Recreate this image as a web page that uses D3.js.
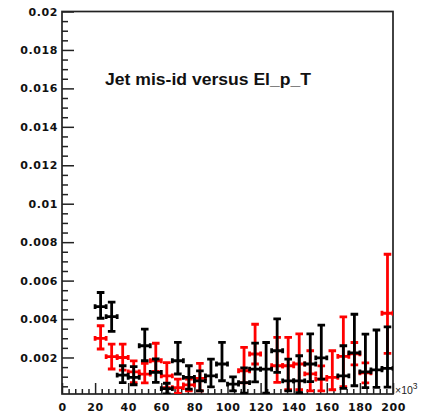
<!DOCTYPE html>
<html>
<head>
<meta charset="utf-8">
<script src="https://cdn.jsdelivr.net/npm/d3@7"></script>
<style>
  body { margin: 0; background: #fff; }
  svg { display: block; }
  .lbl text { font-family: "DejaVu Sans", sans-serif; font-weight: bold; font-size: 11px; letter-spacing: 0.6px; fill: #111; }
</style>
</head>
<body>
<svg id="chart" width="432" height="419"></svg>
<script>
// Bin centres (x in units of 10^3), 30 equal bins over 0..200; bins below 20 are empty
const binCenters = [23.33, 30, 36.67, 43.33, 50, 56.67, 63.33, 70, 76.67, 83.33,
                    90, 96.67, 103.33, 110, 116.67, 123.33, 130, 136.67, 143.33, 150,
                    156.67, 163.33, 170, 176.67, 183.33, 190, 196.67];
const binWidth = 6.667;

// Black histogram: content and upper / lower errors
const blackVal   = [0.00465, 0.00413, 0.00108, 0.00096, 0.00261, 0.00122, 0.00038, 0.00183, 0.00096, 0.00078,
                    0.00104, 0.00166, 0.00061, 0.00069, 0.00139, 0.00139, 0.00235, 0.00078, 0.00078, 0.00166,
                    0.00198, null,    0.00104, 0.00224, 0.00125, 0.00136, 0.00143];
const blackErrHi = [0.00073, 0.00075, 0.00049, 0.00056, 0.00087, 0.00070, 0.00028, 0.00096, 0.00061, 0.00052,
                    0.00087, 0.00113, 0.00038, 0.00077, 0.00136, 0.00139, 0.00166, 0.00113, 0.00131, 0.00157,
                    0.00170, null,    0.00157, 0.00201, 0.00197, 0.00207, 0.00216];
const blackErrLo = [0.00061, 0.00077, 0.00039, 0.00038, 0.00078, 0.00052, 0.00027, 0.00069, 0.00061, 0.00052,
                    0.00057, 0.00087, 0.00035, 0.00054, 0.00066, 0.00124, 0.00113, 0.00052, 0.00061, 0.00092,
                    0.00111, null,    0.00065, 0.00171, 0.00082, 0.00092, 0.00097];

// Red histogram: content and upper / lower errors
const redVal   = [0.00299, 0.00204, 0.00200, 0.00125, 0.00113, 0.00183, 0.00104, 0.00043, 0.00057, 0.00091,
                  null,    null,    null,    0.00131, 0.00218, null,    0.00157, 0.00157, 0.00166, 0.00115,
                  0.00087, 0.00096, 0.00206, 0.00219, 0.00120, null,    0.00430];
const redErrHi = [0.00066, 0.00066, 0.00070, 0.00057, 0.00056, 0.00091, 0.00069, 0.00044, 0.00031, 0.00078,
                  null,    null,    null,    0.00122, 0.00155, null,    0.00148, 0.00148, 0.00157, 0.00120,
                  0.00069, 0.00139, 0.00205, 0.00059, 0.00052, null,    0.00307];
const redErrLo = [0.00055, 0.00064, 0.00066, 0.00056, 0.00045, 0.00055, 0.00061, 0.00030, 0.00031, 0.00065,
                  null,    null,    null,    0.00063, 0.00052, null,    0.00087, 0.00125, 0.00134, 0.00089,
                  0.00061, 0.00064, 0.00158, 0.00057, 0.00052, null,    0.00209];

// Axis ticks and labels
const xTicks = [0, 20, 40, 60, 80, 100, 120, 140, 160, 180, 200];
const xTickLabels = ["0", "20", "40", "60", "80", "100", "120", "140", "160", "180", "200"];
const yTicks = [0.002, 0.004, 0.006, 0.008, 0.010, 0.012, 0.014, 0.016, 0.018, 0.020];
const yTickLabels = ["0.002", "0.004", "0.006", "0.008", "0.01", "0.012", "0.014", "0.016", "0.018", "0.02"];
const xMinorStep = 4;
const yMinorStep = 0.0005;

const titleText = "Jet mis-id versus El_p_T";

const svg = d3.select("#chart");
const frameL = 62, frameR = 393, frameT = 11.5, frameB = 394;

const x = d3.scaleLinear().domain([0, 200]).range([frameL, frameR]);
const y = d3.scaleLinear().domain([0.0001, 0.02]).range([frameB, frameT]);

// minor tick positions
const xMinor = d3.range(0, 200.001, xMinorStep).filter(v => v % 20 !== 0);
const yMinor = d3.range(0.0005, 0.02, yMinorStep).filter(v => Math.abs(v / 0.002 - Math.round(v / 0.002)) > 1e-6);

// y axis: ticks pointing into the frame
svg.append("g").attr("class", "lbl").attr("transform", `translate(${frameL},0)`)
  .call(d3.axisLeft(y).tickValues(yTicks).tickSize(-12).tickPadding(4)
        .tickFormat((d, i) => yTickLabels[i]));
svg.append("g").attr("transform", `translate(${frameL},0)`)
  .call(d3.axisLeft(y).tickValues(yMinor).tickSize(-6).tickFormat(""));

// x axis
svg.append("g").attr("class", "lbl").attr("transform", `translate(0,${frameB})`)
  .call(d3.axisBottom(x).tickValues(xTicks).tickSize(-11).tickPadding(9)
        .tickFormat((d, i) => xTickLabels[i]));
svg.append("g").attr("transform", `translate(0,${frameB})`)
  .call(d3.axisBottom(x).tickValues(xMinor).tickSize(-5).tickFormat(""));

svg.selectAll(".domain").remove();
svg.selectAll(".tick line").attr("stroke", "#222").attr("stroke-width", 1.5);

// frame
svg.append("rect")
  .attr("x", frameL).attr("y", frameT)
  .attr("width", frameR - frameL).attr("height", frameB - frameT)
  .attr("fill", "none").attr("stroke", "#222").attr("stroke-width", 1.7);

// clip region for the markers
svg.append("clipPath").attr("id", "plotArea")
  .append("rect").attr("x", frameL).attr("y", frameT)
  .attr("width", frameR - frameL).attr("height", frameB - frameT);

function drawSeries(vals, hi, lo, color) {
  const pts = binCenters.map((c, i) => ({ c, v: vals[i], hi: hi[i], lo: lo[i] }))
                        .filter(d => d.v !== null);
  const g = svg.append("g").attr("clip-path", "url(#plotArea)")
    .attr("stroke", color).attr("stroke-width", 2.8).attr("fill", "none");
  const capW = 3.8, capH = 2.4;
  pts.forEach(d => {
    const cx = x(d.c), cy = y(d.v);
    const yT = y(d.v + d.hi), yB = y(Math.max(d.v - d.lo, 0.0001));
    const xL = x(d.c - binWidth / 2), xR = x(d.c + binWidth / 2);
    const p = d3.path();
    p.moveTo(cx, yT); p.lineTo(cx, yB);               // vertical error
    p.moveTo(xL, cy); p.lineTo(xR, cy);               // bin width
    p.moveTo(cx - capW, yT); p.lineTo(cx + capW, yT); // caps
    p.moveTo(cx - capW, yB); p.lineTo(cx + capW, yB);
    p.moveTo(xL, cy - capH); p.lineTo(xL, cy + capH);
    p.moveTo(xR, cy - capH); p.lineTo(xR, cy + capH);
    g.append("path").attr("d", p.toString());
  });
}

drawSeries(redVal, redErrHi, redErrLo, "#ff0000");
drawSeries(blackVal, blackErrHi, blackErrLo, "#000000");

// title
svg.append("text")
  .attr("x", 105).attr("y", 85)
  .attr("font-family", "'Liberation Sans', Arial, sans-serif")
  .attr("font-weight", "bold").attr("font-size", 16.5)
  .attr("fill", "#111")
  .attr("textLength", 206).attr("lengthAdjust", "spacingAndGlyphs")
  .text(titleText);

// x-axis exponent
const ex = svg.append("text")
  .attr("x", 395).attr("y", 394)
  .attr("font-family", "'Liberation Sans', Arial, sans-serif")
  .attr("font-size", 10.5).attr("fill", "#222");
ex.append("tspan").text("\u00d710");
ex.append("tspan").attr("dy", -5).attr("font-size", 8.5).text("3");
</script>
</body>
</html>
